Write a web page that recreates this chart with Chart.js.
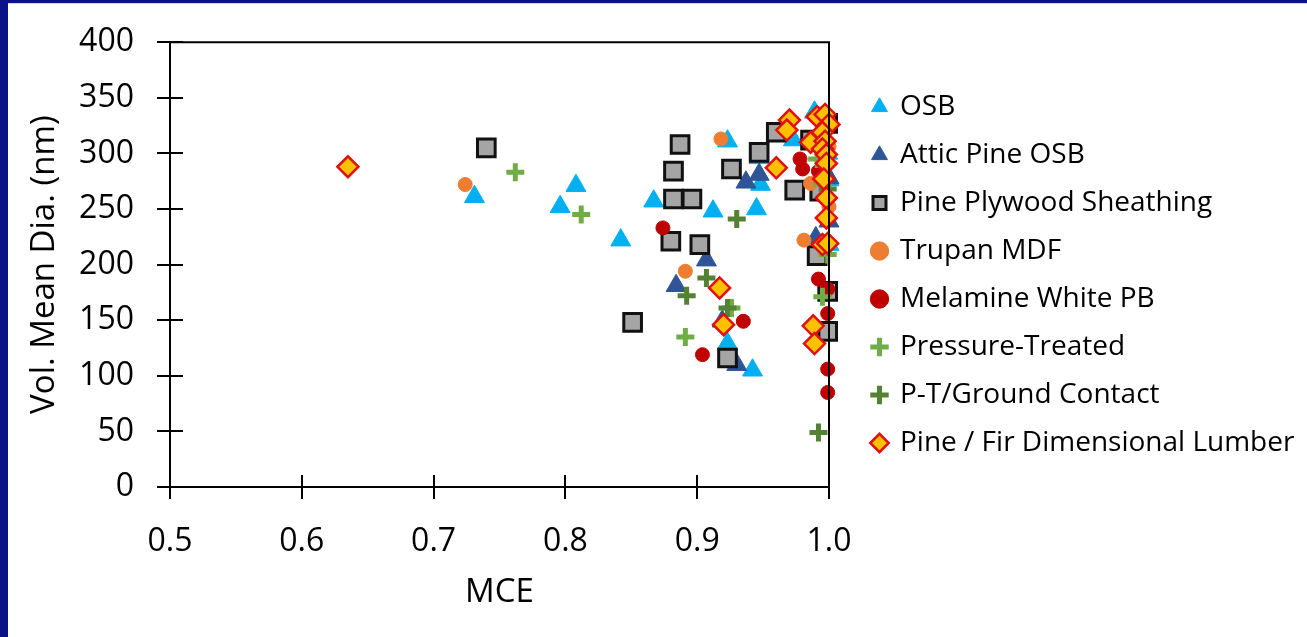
<!DOCTYPE html>
<html>
<head>
<meta charset="utf-8">
<script src="https://cdn.jsdelivr.net/npm/chart.js@4.4.1/dist/chart.umd.min.js"></script>
<style>
  html, body { margin: 0; padding: 0; background: #ffffff; }
  #wrap { position: relative; width: 1307px; height: 637px; overflow: hidden; background: #fff; }
  #c { position: absolute; left: 0; top: 0; }
  .bl { position: absolute; left: 0; top: 0; width: 8px; height: 637px; background: #0B1283; }
  .bt { position: absolute; left: 0; top: 0; width: 1307px; height: 3px; background: #0B1283; }
  .bt2 { position: absolute; left: 8px; top: 3px; width: 1299px; height: 1px; background: #d8d8d8; }
</style>
</head>
<body>
<div id="wrap">
  <canvas id="c" width="1307" height="637"></canvas>
  <div class="bl"></div><div class="bt"></div><div class="bt2"></div>
</div>
<script>
// ---- data (MCE, Vol. Mean Dia. nm) ----
const seriesNames = ["OSB", "Attic Pine OSB", "Pine Plywood Sheathing", "Trupan MDF",
  "Melamine White PB", "Pressure-Treated", "P-T/Ground Contact", "Pine / Fir Dimensional Lumber"];

const osb = [[0.731,261],[0.796,252],[0.808,271],[0.842,222],[0.867,257],[0.912,248],[0.923,311],
  [0.945,250],[0.948,272],[0.947,296],[0.973,312],[0.989,337],[0.923,129],[0.942,105],
  [1.0,218],[1.0,276],[0.999,300]];
const atticPineOsb = [[0.884,181],[0.907,204],[0.919,149],[0.930,110],[0.937,274],[0.947,281],
  [0.990,224],[1.0,239],[1.0,278]];
const pinePlywood = [[0.740,305],[0.851,148],[0.887,308],[0.882,284],[0.882,259],[0.896,259],
  [0.880,221],[0.902,218],[0.926,286],[0.947,301],[0.960,319],[0.974,267],[0.986,312],
  [0.991,208],[0.923,116],[0.999,176],[0.999,140],[0.999,327],[0.993,266]];
const trupanMdf = [[0.724,272],[0.918,313],[0.891,194],[0.981,222],[0.986,273],[1.0,306],[1.0,252]];
const melamineWhitePb = [[0.874,233],[0.904,119],[0.935,149],[0.978,295],[0.980,286],[0.992,284],
  [0.992,187],[0.999,178],[0.999,156],[0.999,106],[0.999,85]];
const pressureTreated = [[0.762,283],[0.812,245],[0.891,135],[0.926,161],[0.995,171],[0.999,209],
  [0.995,272],[0.991,295]];
const ptGroundContact = [[0.930,241],[0.907,188],[0.892,172],[0.923,161],[0.992,49],[0.999,268]];
const pineFirLumber = [[0.635,288],[0.917,179],[0.920,146],[0.960,287],[0.970,330],[0.968,321],
  [0.986,310],[0.988,145],[0.989,129],[0.991,333],[0.997,335],[1.0,326],[0.995,319],[0.997,311],
  [0.995,304],[0.998,299],[0.998,291],[0.996,277],[0.998,260],[0.998,242],[0.995,218],[0.999,219]];

const xTicks = [0.5, 0.6, 0.7, 0.8, 0.9, 1.0];
const yTicks = [0, 50, 100, 150, 200, 250, 300, 350, 400];

const toPts = arr => arr.map(p => ({x: p[0], y: p[1]}));

const FONT = "'Open Sans', 'Noto Sans', sans-serif";

const styles = [
  {pointStyle: 'triangle', backgroundColor: '#00B0F0', borderColor: '#00B0F0', borderWidth: 1, radius: 11.5},
  {pointStyle: 'triangle', backgroundColor: '#2F5597', borderColor: '#2F5597', borderWidth: 1, radius: 11.5},
  {pointStyle: 'rect', backgroundColor: '#A5A5A5', borderColor: '#111111', borderWidth: 3, radius: 12.5},
  {pointStyle: 'circle', backgroundColor: '#ED7D31', borderColor: '#ED7D31', borderWidth: 1, radius: 7},
  {pointStyle: 'circle', backgroundColor: '#C00000', borderColor: '#C00000', borderWidth: 1, radius: 7},
  {pointStyle: 'cross', backgroundColor: '#70AD47', borderColor: '#70AD47', borderWidth: 5, radius: 9},
  {pointStyle: 'cross', backgroundColor: '#548235', borderColor: '#548235', borderWidth: 5, radius: 9},
  {pointStyle: 'rectRot', backgroundColor: '#FFC000', borderColor: '#E01010', borderWidth: 2.5, radius: 10.5}
];
const allData = [osb, atticPineOsb, pinePlywood, trupanMdf, melamineWhitePb, pressureTreated, ptGroundContact, pineFirLumber];

const datasets = allData.map((d, i) => ({
  label: seriesNames[i],
  data: toPts(d),
  pointStyle: styles[i].pointStyle,
  backgroundColor: styles[i].backgroundColor,
  borderColor: styles[i].borderColor,
  borderWidth: styles[i].borderWidth,
  pointRadius: styles[i].radius,
  pointHoverRadius: styles[i].radius,
  order: allData.length - i,
  clip: false
}));

const PLOT_RIGHT = 829;
const LEGEND_LEFT = 853;
const LEGEND_TOP = 73;

// fix legend width & position
const legendPlacer = {
  id: 'legendPlacer',
  beforeLayout(chart) {
    const lg = chart.legend;
    if (lg && !lg._wrapped) {
      const f = lg.fit;
      lg.fit = function () { f.call(this); this.width = chart.width - PLOT_RIGHT; };
      lg._wrapped = true;
    }
  },
  afterLayout(chart) {
    const lg = chart.legend;
    if (lg) {
      const w = lg.width, h = lg.height;
      lg.left = LEGEND_LEFT; lg.right = LEGEND_LEFT + w;
      lg.top = LEGEND_TOP; lg.bottom = LEGEND_TOP + h;
    }
  }
};

// frame + inward tick marks
const framePlugin = {
  id: 'frame',
  afterDatasetsDraw(chart) {
    const {ctx, chartArea: a, scales: {x, y}} = chart;
    ctx.save();
    ctx.strokeStyle = '#000';
    ctx.lineWidth = 2;
    ctx.beginPath();
    ctx.moveTo(a.left, a.top); ctx.lineTo(a.right, a.top); ctx.lineTo(a.right, a.bottom);
    ctx.stroke();
    ctx.beginPath();
    x.ticks.forEach(t => { const px = Math.round(x.getPixelForValue(t.value)); ctx.moveTo(px, a.bottom); ctx.lineTo(px, a.bottom - 12); });
    y.ticks.forEach(t => { const py = Math.round(y.getPixelForValue(t.value)); ctx.moveTo(a.left, py); ctx.lineTo(a.left + 13, py); });
    ctx.stroke();
    ctx.restore();
  }
};

new Chart(document.getElementById('c'), {
  type: 'scatter',
  data: {datasets},
  options: {
    responsive: false,
    animation: false,
    devicePixelRatio: 1,
    layout: {padding: {left: 8, top: 40, right: 0, bottom: 0}},
    plugins: {
      legend: {
        position: 'right',
        align: 'start',
        labels: {
          usePointStyle: true,
          boxWidth: 13, boxHeight: 13,
          padding: 20,
          color: '#000',
          font: {family: FONT, size: 28},
          sort: (a, b) => a.datasetIndex - b.datasetIndex
        }
      },
      tooltip: {enabled: false}
    },
    scales: {
      x: {
        type: 'linear', min: 0.5, max: 1.0,
        afterBuildTicks: s => { s.ticks = xTicks.map(v => ({value: v})); },
        afterFit: s => { s.height = 150; },
        ticks: {color: '#000', font: {family: FONT, size: 32}, padding: 24, callback: v => v.toFixed(1), maxRotation: 0},
        grid: {drawOnChartArea: false, drawTicks: true, tickLength: 12, color: '#000', lineWidth: 2},
        border: {display: true, color: '#000', width: 2},
        title: {display: true, text: 'MCE', color: '#000', font: {family: FONT, size: 33}, padding: {top: 0, bottom: 25}}
      },
      y: {
        type: 'linear', min: 0, max: 400,
        afterBuildTicks: s => { s.ticks = yTicks.map(v => ({value: v})); },
        afterFit: s => { s.width = 162; },
        ticks: {color: '#000', font: {family: FONT, size: 32}, padding: 23},
        grid: {drawOnChartArea: false, drawTicks: true, tickLength: 13, color: '#000', lineWidth: 2},
        border: {display: true, color: '#000', width: 2},
        title: {display: true, text: 'Vol. Mean Dia. (nm)', color: '#000', font: {family: FONT, size: 33}, padding: {top: 17, bottom: 0}}
      }
    }
  },
  plugins: [legendPlacer, framePlugin]
});
</script>
</body>
</html>
